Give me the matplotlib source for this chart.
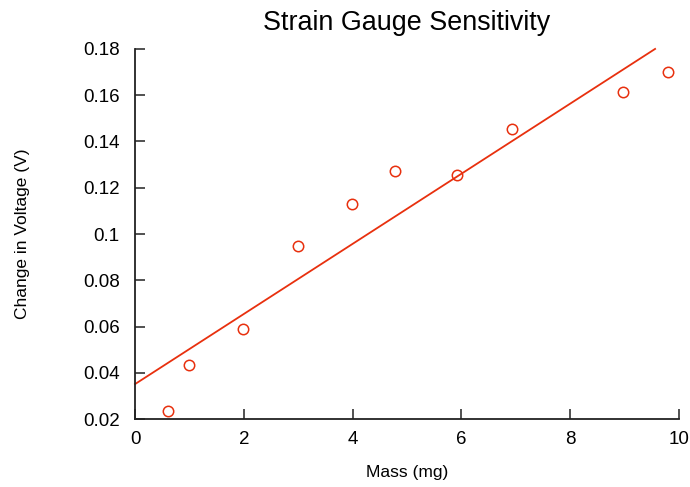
import matplotlib
matplotlib.use("Agg")
from matplotlib import pyplot as plt
from matplotlib.ticker import FormatStrFormatter

plt.rcParams['font.family'] = ['Liberation Sans', 'DejaVu Sans']

# measured data
masa = [0.61, 0.99, 1.99, 3.0, 3.99, 4.78, 5.92, 6.93, 8.97, 9.80]
voltaje = [0.0235, 0.0434, 0.0589, 0.0948, 0.113, 0.1272, 0.1255, 0.1454, 0.1614, 0.170]

# linear fit
fit_x = [0.0, 9.56]
ordenada = 0.0351
pendiente = 0.01516

rojo = '#e8300e'

fig = plt.figure(figsize=(6.9, 4.87), dpi=100)
ax = fig.add_axes([0.1957, 0.1396, 0.7884, 0.7598])

fit_y = [ordenada + pendiente * x for x in fit_x]
ax.plot(fit_x, fit_y, color=rojo, lw=1.3, clip_on=False)
ax.plot(masa, voltaje, 'o', mfc='none', mec=rojo, ms=7.5, mew=1.1, clip_on=False)

ax.set_xlim(0, 10)
ax.set_ylim(0.02, 0.18)
ax.set_xticks([0, 2, 4, 6, 8, 10])
ax.set_yticks([0.02, 0.04, 0.06, 0.08, 0.1, 0.12, 0.14, 0.16, 0.18])
ax.yaxis.set_major_formatter(FormatStrFormatter('%g'))

for lado in ['top', 'right']:
    ax.spines[lado].set_visible(False)
for lado in ['left', 'bottom']:
    ax.spines[lado].set_linewidth(1.3)
    ax.spines[lado].set_color('#222222')

ax.tick_params(direction='in', length=7, width=1.1, labelsize=13.5, color='#222222')
ax.tick_params(axis='y', pad=11)
ax.tick_params(axis='x', pad=8.5)

ax.set_title("Strain Gauge Sensitivity", fontsize=19.4, pad=14)
ax.set_xlabel("Mass (mg)", fontsize=12.5, labelpad=12.5)
ax.set_ylabel("Change in Voltage (V)", fontsize=12.5, labelpad=38)

fig.savefig("out.png", dpi=100)
